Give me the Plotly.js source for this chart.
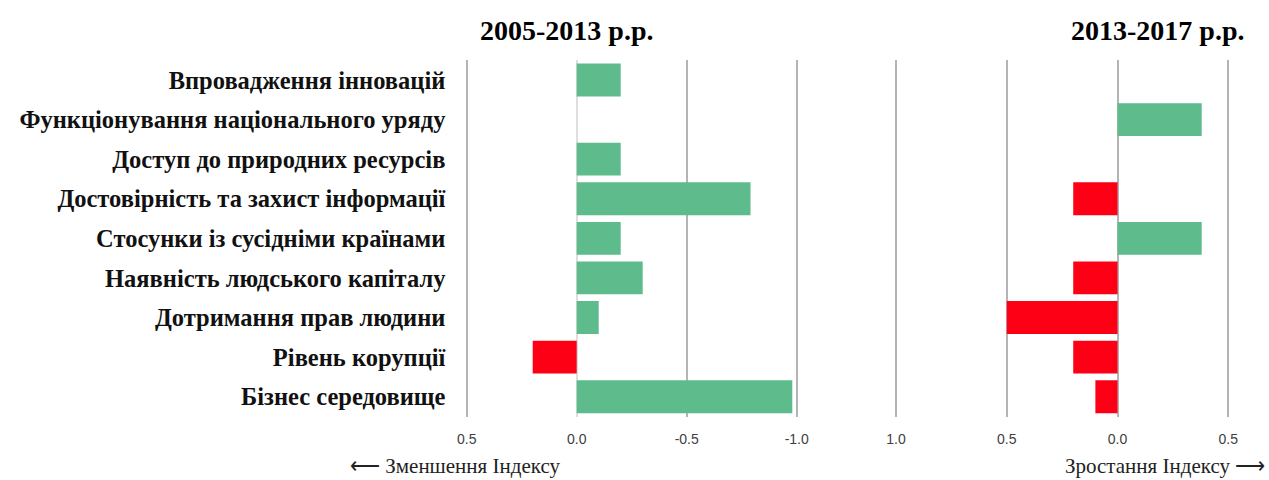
<!DOCTYPE html>
<html>
<head>
<meta charset="utf-8">
<script src="https://cdn.plot.ly/plotly-3.0.1.min.js"></script>
<style>html,body{margin:0;padding:0;background:#fff;}#chart{width:1269px;height:480px;}</style>
</head>
<body>
<div id="chart"></div>
<script>
const categories = [
  "Впровадження інновацій",
  "Функціонування національного уряду",
  "Доступ до природних ресурсів",
  "Достовірність та захист інформації",
  "Стосунки із сусідніми країнами",
  "Наявність людського капіталу",
  "Дотримання прав людини",
  "Рівень корупції",
  "Бізнес середовище"
];
const values2005_2013 = [-0.2, 0, -0.2, -0.79, -0.2, -0.3, -0.1, 0.2, -0.98];
const values2013_2017 = [0, 0.38, 0, -0.2, 0.38, -0.2, -0.5, -0.2, -0.1];
const leftTickVals = [0.5, 0, -0.5, -1];
const leftTickText = ["0.5", "0.0", "-0.5", "-1.0"];
const rightTickVals = [-1, -0.5, 0, 0.5];
const rightTickText = ["1.0", "0.5", "0.0", "0.5"];
const titles = ["2005-2013 р.р.", "2013-2017 р.р."];
const arrowLabels = ["⟵ Зменшення Індексу", "Зростання Індексу ⟶"];

const GREEN = "#5dbb8c", RED = "#fd0016";
const W = 1269, H = 480;
const px = v => v / W, py = v => 1 - v / H;

const traces = [
  {
    type: "bar", orientation: "h", y: categories, x: values2005_2013,
    xaxis: "x", yaxis: "y",
    marker: {color: values2005_2013.map(v => v > 0 ? RED : GREEN), line: {width: 0}},
    hoverinfo: "x+y"
  },
  {
    type: "bar", orientation: "h", y: categories, x: values2013_2017,
    xaxis: "x2", yaxis: "y",
    marker: {color: values2013_2017.map(v => v < 0 ? RED : GREEN), line: {width: 0}},
    hoverinfo: "x+y"
  }
];

const tickFont = {family: "Liberation Sans, Arial, sans-serif", size: 14, color: "#404040"};
// 220 px per unit on each panel; ranges padded slightly so edge gridlines are drawn
const pad = 0.02;

const layout = {
  width: W, height: H,
  margin: {l: 0, r: 0, t: 0, b: 0},
  paper_bgcolor: "#fff", plot_bgcolor: "rgba(0,0,0,0)",
  showlegend: false,
  bargap: 0.17,
  xaxis: {
    domain: [px(466.7 - pad * 220), px(796.7 + pad * 220)],
    range: [0.5 + pad, -1.0 - pad],
    tickvals: leftTickVals, ticktext: leftTickText,
    showgrid: true, gridcolor: "#b4b4b4", gridwidth: 2,
    zeroline: true, zerolinecolor: "#dedede", zerolinewidth: 2,
    showline: false,
    ticks: "outside", ticklen: 10, tickcolor: "rgba(0,0,0,0)",
    tickfont: tickFont, anchor: "y", fixedrange: true
  },
  xaxis2: {
    domain: [px(896 - pad * 222), px(1228.3 + pad * 222)],
    range: [-1.0 - pad, 0.5 + pad],
    tickvals: rightTickVals, ticktext: rightTickText,
    showgrid: true, gridcolor: "#b4b4b4", gridwidth: 2,
    zeroline: true, zerolinecolor: "#b4b4b4", zerolinewidth: 2,
    showline: false,
    ticks: "outside", ticklen: 10, tickcolor: "rgba(0,0,0,0)",
    tickfont: tickFont, anchor: "y", fixedrange: true
  },
  yaxis: {
    domain: [py(416.5), py(60.2)],
    autorange: "reversed",
    type: "category",
    showgrid: false, zeroline: false, showline: false,
    ticks: "outside", ticklen: 11, tickcolor: "rgba(0,0,0,0)",
    tickfont: {family: "Liberation Serif, Times New Roman, serif", size: 24.5, color: "#111", weight: "bold"},
    anchor: "x", fixedrange: true
  },
  annotations: [
    {text: "<b>" + titles[0] + "</b>", xref: "paper", yref: "paper", x: px(566), y: py(30),
     xanchor: "center", yanchor: "middle", showarrow: false,
     font: {family: "Liberation Serif, Times New Roman, serif", size: 28, color: "#000"}},
    {text: "<b>" + titles[1] + "</b>", xref: "paper", yref: "paper", x: px(1157), y: py(30),
     xanchor: "center", yanchor: "middle", showarrow: false,
     font: {family: "Liberation Serif, Times New Roman, serif", size: 28, color: "#000"}},
    {text: arrowLabels[0], xref: "paper", yref: "paper", x: px(348), y: py(466),
     xanchor: "left", yanchor: "middle", showarrow: false,
     font: {family: "Liberation Serif, Times New Roman, serif", size: 21, color: "#222"}},
    {text: arrowLabels[1], xref: "paper", yref: "paper", x: px(1267), y: py(466),
     xanchor: "right", yanchor: "middle", showarrow: false,
     font: {family: "Liberation Serif, Times New Roman, serif", size: 21, color: "#222"}}
  ]
};

Plotly.newPlot("chart", traces, layout, {displayModeBar: false, staticPlot: true});
</script>
</body>
</html>
